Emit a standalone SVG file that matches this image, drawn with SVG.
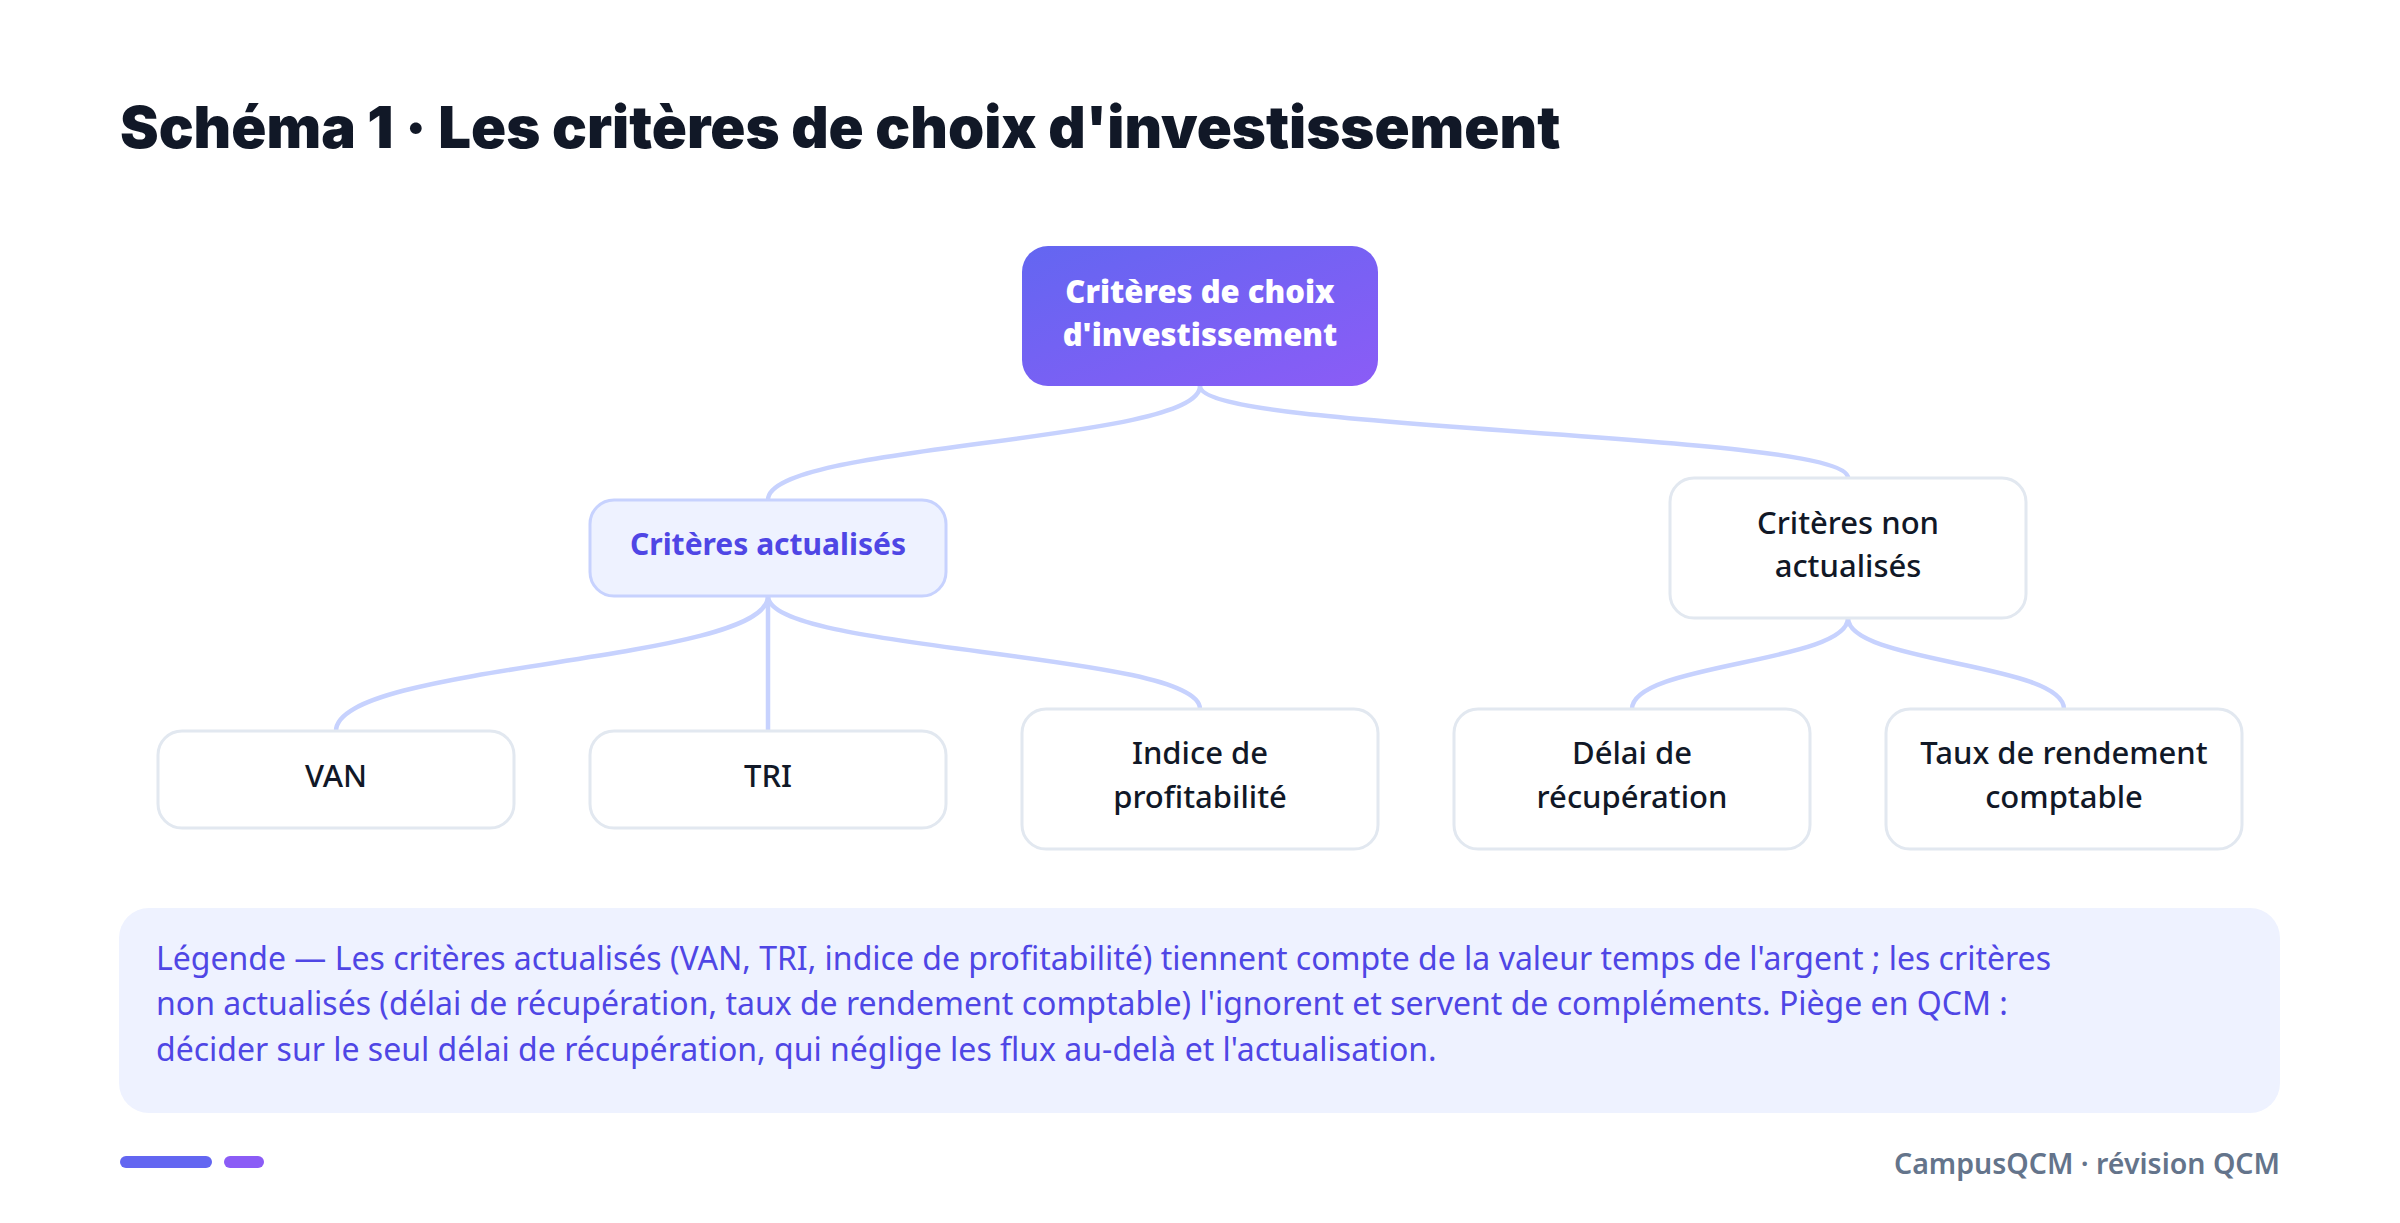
<svg xmlns="http://www.w3.org/2000/svg" width="2400" height="1223" viewBox="0 0 2400 1223">
<defs>
<linearGradient id="rootGrad" x1="0" y1="0" x2="1" y2="1">
<stop offset="0" stop-color="#6366F1"/>
<stop offset="1" stop-color="#8B5CF6"/>
</linearGradient>
<style>
.title{font-family:"Inter","Noto Sans",sans-serif;font-weight:900;font-size:58px;fill:#111827}
.conn{fill:none;stroke:#C7D2FE;stroke-width:4.5;stroke-linecap:round}
.leaf rect{fill:#FFFFFF;stroke:#E2E8F0;stroke-width:3}
.leaf text{font-family:"Noto Sans",sans-serif;font-weight:500;font-size:31px;fill:#111827;text-anchor:middle}
.mid rect{fill:#EEF2FF;stroke:#C7D2FE;stroke-width:3}
.mid text{font-family:"Noto Sans",sans-serif;font-weight:700;font-size:30px;fill:#4F46E5;text-anchor:middle}
.root text{font-family:"Noto Sans",sans-serif;font-weight:900;font-size:31px;fill:#FFFFFF;text-anchor:middle}
.legend text{font-family:"Noto Sans",sans-serif;font-size:32px;fill:#4F46E5}
.foot{font-family:"Noto Sans",sans-serif;font-weight:600;font-size:28.5px;fill:#64748B;text-anchor:end}
</style>
</defs>
<rect width="2400" height="1223" fill="#FFFFFF"/>
<text class="title" x="120" y="148">Schéma 1 · Les critères de choix d'investissement</text>

<g id="connectors">
<path class="conn" d="M1200 386 C1200 443 768 443 768 500"/>
<path class="conn" d="M1200 386 C1200 432 1848 432 1848 478"/>
<path class="conn" d="M768 596 C768 663 336 663 336 731"/>
<path class="conn" d="M768 596 L768 731"/>
<path class="conn" d="M768 596 C768 652 1200 652 1200 709"/>
<path class="conn" d="M1848 618 C1848 663 1632 663 1632 709"/>
<path class="conn" d="M1848 618 C1848 663 2064 663 2064 709"/>
</g>

<g id="node-root" class="root">
<rect x="1022" y="246" width="356" height="140" rx="26" fill="url(#rootGrad)"/>
<text x="1200" y="303">Critères de choix</text>
<text x="1200" y="346">d'investissement</text>
</g>

<g id="node-actualises" class="mid">
<rect x="590" y="500" width="356" height="96" rx="24"/>
<text x="768" y="555">Critères actualisés</text>
</g>

<g id="node-non-actualises" class="leaf">
<rect x="1670" y="478" width="356" height="140" rx="24"/>
<text x="1848" y="534">Critères non</text>
<text x="1848" y="577">actualisés</text>
</g>

<g id="node-van" class="leaf">
<rect x="158" y="731" width="356" height="97" rx="24"/>
<text x="336" y="787">VAN</text>
</g>

<g id="node-tri" class="leaf">
<rect x="590" y="731" width="356" height="97" rx="24"/>
<text x="768" y="787">TRI</text>
</g>

<g id="node-indice" class="leaf">
<rect x="1022" y="709" width="356" height="140" rx="24"/>
<text x="1200" y="764">Indice de</text>
<text x="1200" y="808">profitabilité</text>
</g>

<g id="node-delai" class="leaf">
<rect x="1454" y="709" width="356" height="140" rx="24"/>
<text x="1632" y="764">Délai de</text>
<text x="1632" y="808">récupération</text>
</g>

<g id="node-taux" class="leaf">
<rect x="1886" y="709" width="356" height="140" rx="24"/>
<text x="2064" y="764">Taux de rendement</text>
<text x="2064" y="808">comptable</text>
</g>

<g id="legend" class="legend">
<rect x="119" y="908" width="2161" height="205" rx="30" fill="#EEF2FF"/>
<text x="156" y="970">Légende — Les critères actualisés (VAN, TRI, indice de profitabilité) tiennent compte de la valeur temps de l'argent ; les critères</text>
<text x="156" y="1015">non actualisés (délai de récupération, taux de rendement comptable) l'ignorent et servent de compléments. Piège en QCM :</text>
<text x="156" y="1061">décider sur le seul délai de récupération, qui néglige les flux au-delà et l'actualisation.</text>
</g>

<g id="footer">
<rect x="120" y="1156" width="92" height="12" rx="6" fill="#6366F1"/>
<rect x="224" y="1156" width="40" height="12" rx="6" fill="#8B5CF6"/>
<text class="foot" x="2280" y="1174">CampusQCM · révision QCM</text>
</g>
</svg>
